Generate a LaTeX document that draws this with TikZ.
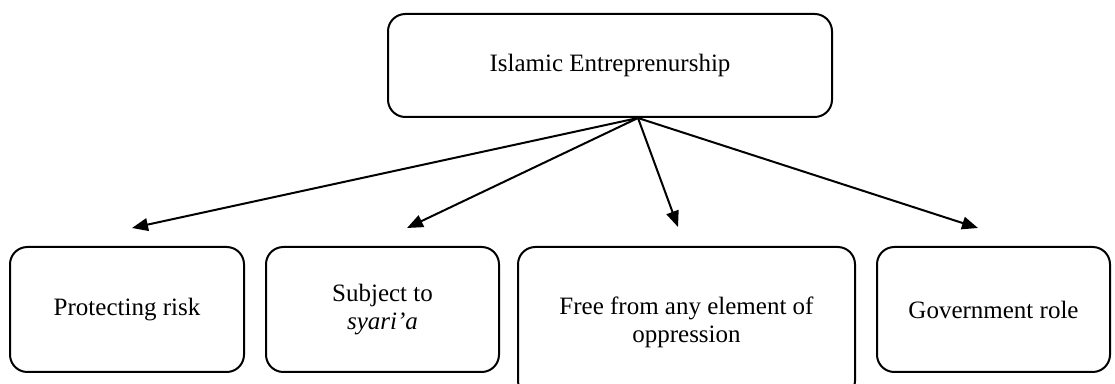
\documentclass[tikz,border=0pt]{standalone}
\usepackage{fontspec}
\setmainfont{Liberation Serif}
\usetikzlibrary{arrows.meta}

\begin{document}
\begin{tikzpicture}[x=0.75pt, y=-0.75pt,
  font=\fontsize{18.75}{21.5}\selectfont,
  box/.style={draw, line width=1.5pt, rounded corners=13pt, align=center, inner sep=0pt},
  link/.style={-{Triangle[length=12pt,width=9.5pt]}, line width=1.5pt}]
\useasboundingbox (0,0) rectangle (1115,384);

% Top concept box
\node[box, minimum width=333pt, minimum height=77.25pt] (top) at (610,65.5) {Islamic Entreprenurship};

% Four elements below
\node[box, minimum width=175.5pt, minimum height=93.75pt] (b1) at (127,309.5) {Protecting risk};
\node[box, minimum width=174.75pt, minimum height=93.75pt] (b2) at (382.5,309.5) {Subject to\\\textit{syari'a}};
\node[box, minimum width=252.75pt, minimum height=113.25pt] (b3) at (686.5,322.5) {Free from any element of\\oppression};
\node[box, minimum width=174.75pt, minimum height=93.75pt] (b4) at (993.5,309.5) {Government role};

% Arrows fan out from one point on the top box
\coordinate (hub) at ([xshift=21pt]top.south);
\coordinate (e1) at (132,228);
\coordinate (e2) at (407,228);
\coordinate (e3) at (678,227);
\coordinate (e4) at (978,228);

\draw[link] (hub) -- (e1);
\draw[link] (hub) -- (e2);
\draw[link] (hub) -- (e3);
\draw[link] (hub) -- (e4);

\end{tikzpicture}
\end{document}
